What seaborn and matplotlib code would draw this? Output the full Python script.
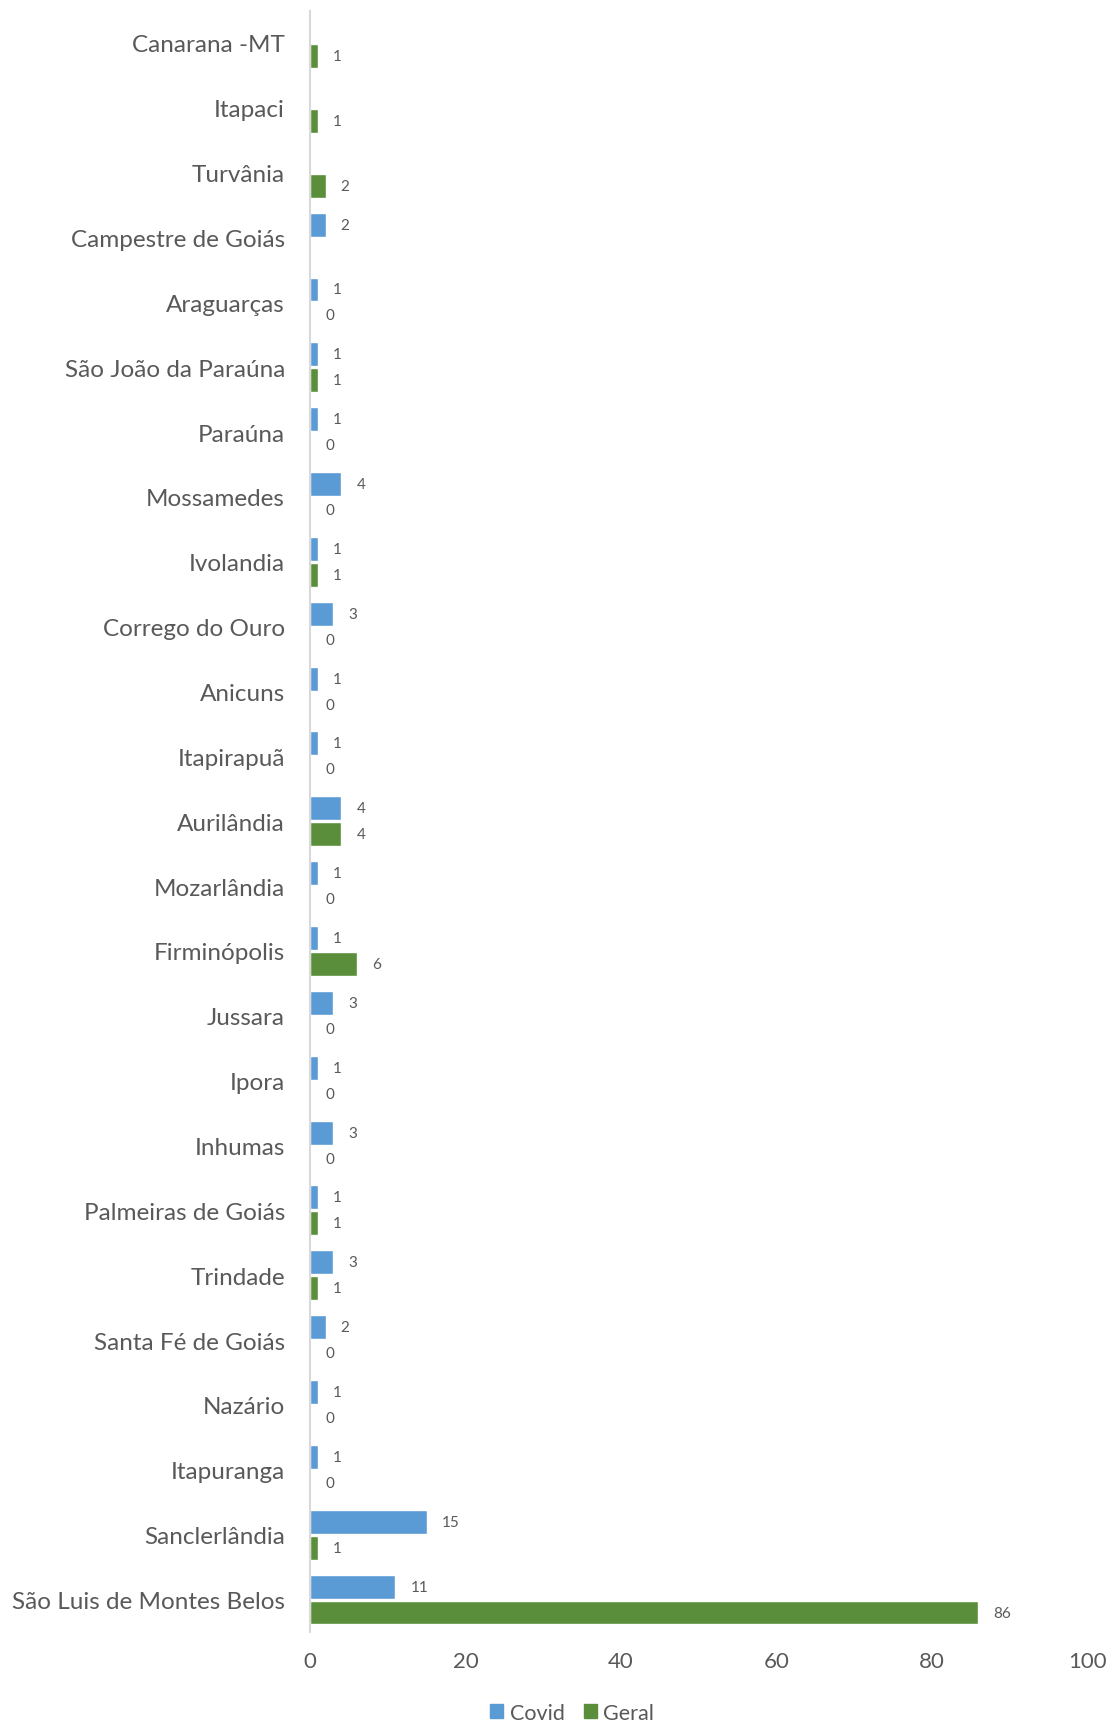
import numpy as np
import pandas as pd
import matplotlib.pyplot as plt
import seaborn as sns

# Cities, top to bottom as shown in the chart
cities = [
    "Canarana -MT", "Itapaci", "Turvânia", "Campestre de Goiás", "Araguarças",
    "São João da Paraúna", "Paraúna", "Mossamedes", "Ivolandia", "Corrego do Ouro",
    "Anicuns", "Itapirapuã", "Aurilândia", "Mozarlândia", "Firminópolis",
    "Jussara", "Ipora", "Inhumas", "Palmeiras de Goiás", "Trindade",
    "Santa Fé de Goiás", "Nazário", "Itapuranga", "Sanclerlândia",
    "São Luis de Montes Belos",
]
covid = [np.nan, np.nan, np.nan, 2, 1, 1, 1, 4, 1, 3, 1, 1, 4, 1, 1,
         3, 1, 3, 1, 3, 2, 1, 1, 15, 11]
geral = [1, 1, 2, np.nan, 0, 1, 0, 0, 1, 0, 0, 0, 4, 0, 6,
         0, 0, 0, 1, 1, 0, 0, 0, 1, 86]
series = ["Covid", "Geral"]
colors = ["#5B9BD5", "#5A8E3A"]
x_ticks = [0, 20, 40, 60, 80, 100]

df = pd.DataFrame({
    "Cidade": cities * 2,
    "Serie": ["Covid"] * len(cities) + ["Geral"] * len(cities),
    "Valor": covid + geral,
}).dropna()

sns.set_style("white")
plt.rcParams["font.family"] = ["Lato", "DejaVu Sans"]
text_color = "#595959"

fig = plt.figure(figsize=(11.07, 17.24), dpi=100)
ax = fig.add_axes([0.280, 0.0528, 0.702, 0.9405])

sns.barplot(data=df, y="Cidade", x="Valor", hue="Serie", order=cities,
            hue_order=series, palette=colors, saturation=1, orient="h",
            width=0.8, gap=0.08, errorbar=None, ax=ax, legend=False)

# Data labels
for c in ax.containers:
    ax.bar_label(c, labels=[f"{b.get_width():.0f}" for b in c], padding=11,
                 fontsize=11, color=text_color)

ax.set_xlim(0, 100)
ax.set_xticks(x_ticks)
ax.set_ylim(len(cities) - 0.5, -0.5)
ax.set_xlabel("")
ax.set_ylabel("")
ax.tick_params(axis="x", length=0, pad=14, labelsize=16, labelcolor=text_color)
ax.tick_params(axis="y", length=0, pad=18, labelsize=17.5, labelcolor=text_color)

for side in ["top", "right", "bottom"]:
    ax.spines[side].set_visible(False)
ax.spines["left"].set_color("#D9D9D9")
ax.spines["left"].set_linewidth(1.5)

handles = [plt.Rectangle((0, 0), 1, 1, color=col) for col in colors]
fig.legend(handles, series, loc="center", bbox_to_anchor=(0.517, 0.006),
           ncol=2, frameon=False, fontsize=15.5, labelcolor=text_color,
           handlelength=0.6, handleheight=0.6, handletextpad=0.3,
           columnspacing=0.9)

fig.savefig("out.png", dpi=100)
